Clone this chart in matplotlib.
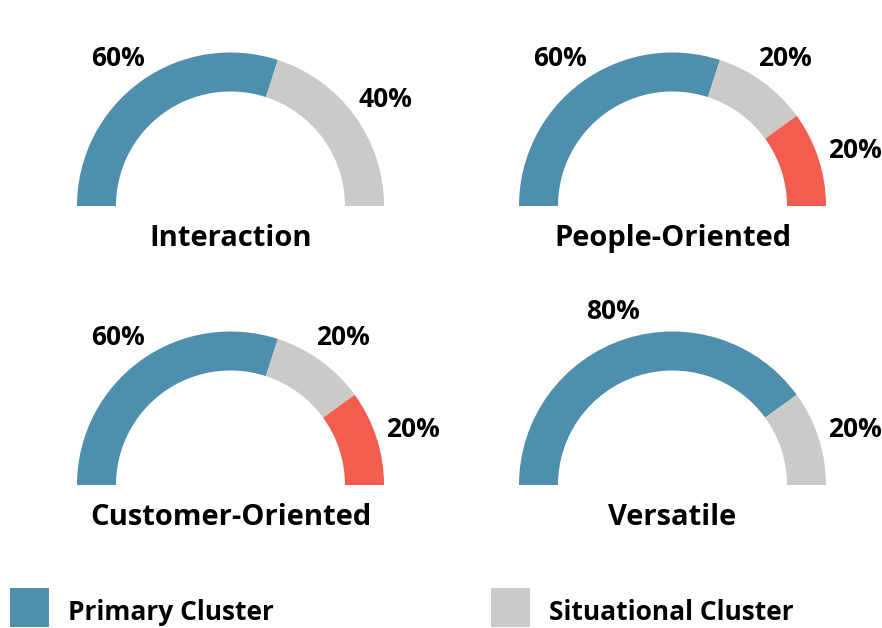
import math
import matplotlib
matplotlib.use('Agg')
import matplotlib.pyplot as plt
from matplotlib.patches import Wedge, Rectangle

plt.rcParams['font.family'] = ['Open Sans', 'DejaVu Sans']

# ─── data ───────────────────────────────────────────────────────────────
titles = ['Interaction', 'People-Oriented', 'Customer-Oriented', 'Versatile']
primary = [60, 60, 60, 80]
situational = [40, 20, 20, 20]
other = [0, 20, 20, 0]
legend_labels = ['Primary Cluster', 'Situational Cluster']

BLUE = '#4e8fad'
GRAY = '#cbcac8'
RED = '#f25d4f'
colors = [BLUE, GRAY, RED]

# ─── layout (pixels) ────────────────────────────────────────────────────
W, H = 882, 628
centers = [(230.5, 206), (672.5, 206), (230.5, 485), (672.5, 485)]
R_OUT, R_IN = 153.5, 114.5
LAB_RX, LAB_RY = 192, 185

fig = plt.figure(figsize=(W / 100, H / 100), dpi=100)
ax = fig.add_axes([0, 0, 1, 1])
ax.set_xlim(0, W)
ax.set_ylim(H, 0)
ax.axis('off')

for i, (cx, cy) in enumerate(centers):
    vals = [primary[i], situational[i], other[i]]
    total = sum(vals)
    start = 180.0
    for v, c in zip(vals, colors):
        if v == 0:
            continue
        span = 180.0 * v / total
        # y axis is inverted, so angles are mirrored
        a1, a2 = -start, -(start - span)
        ax.add_patch(Wedge((cx, cy), R_OUT, a1, a2, width=R_OUT - R_IN,
                           facecolor=c, edgecolor='none'))
        mid = start - span / 2
        lx = cx + LAB_RX * math.cos(math.radians(mid))
        ly = cy - LAB_RY * math.sin(math.radians(mid))
        ax.text(lx, ly + 9.5, f'{v}%', ha='center', va='baseline',
                fontsize=19, fontweight='bold', color='black')
        start -= span
    ax.text(cx, cy + 40, titles[i], ha='center', va='baseline',
            fontsize=21, fontweight='bold', color='black')

# legend
for x0, c, lab in [(10, BLUE, legend_labels[0]), (491, GRAY, legend_labels[1])]:
    ax.add_patch(Rectangle((x0, 588), 39, 39, facecolor=c, edgecolor='none'))
    ax.text(x0 + 58, 620.5, lab, ha='left', va='baseline',
            fontsize=19, fontweight='bold', color='black')

fig.savefig('out.png', dpi=100)
